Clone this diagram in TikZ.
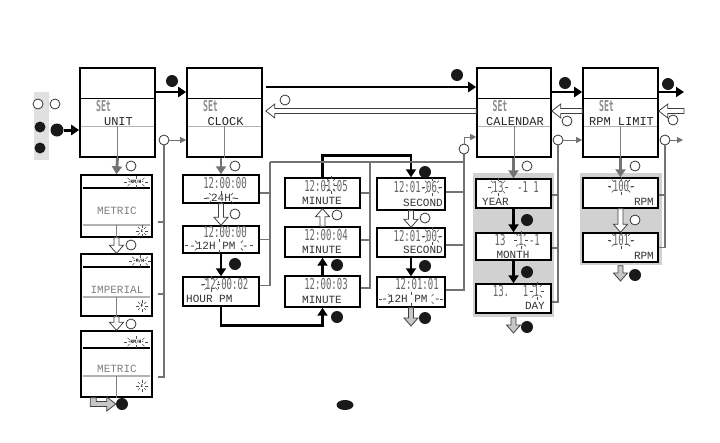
\documentclass[tikz,border=0pt]{standalone}
\usepackage{fontspec}
\usepackage{graphicx}
\setmainfont{Liberation Sans}
\newfontfamily\lcdfont{Liberation Mono}
\newfontfamily\digfont{DejaVu Sans Mono}
\usetikzlibrary{arrows.meta,calc,shapes.geometric}
\newcommand\nrw[1]{\scalebox{0.6}[1]{#1}}
\newcommand\nrs[1]{\scalebox{0.55}[1]{#1}}
\newcommand\spk[4]{\foreach \a in {0,45,90,135,180,225,270,315}{\draw[spkl] ({#1+#3*cos(\a)},{#2+#4*sin(\a)}) -- ({#1+(#3+3)*cos(\a)},{#2+(#4+3)*sin(\a)});}}
% open (outlined) arrows: style, start, end
\newcommand\oaD[3]{\path[#1] let \p1=(#2), \p2=(#3) in (\x1-2.5pt,\y1) -- (\x1-2.5pt,\y2+8pt) -- (\x1-7pt,\y2+8pt) -- (\x1,\y2) -- (\x1+7pt,\y2+8pt) -- (\x1+2.5pt,\y2+8pt) -- (\x1+2.5pt,\y1) -- cycle;}
\newcommand\oaU[3]{\path[#1] let \p1=(#2), \p2=(#3) in (\x1-2.5pt,\y1) -- (\x1-2.5pt,\y2-8pt) -- (\x1-7pt,\y2-8pt) -- (\x1,\y2) -- (\x1+7pt,\y2-8pt) -- (\x1+2.5pt,\y2-8pt) -- (\x1+2.5pt,\y1) -- cycle;}
\newcommand\oaL[3]{\path[#1] let \p1=(#2), \p2=(#3) in (\x1,\y1-2.5pt) -- (\x2+9pt,\y1-2.5pt) -- (\x2+9pt,\y1-7pt) -- (\x2,\y1) -- (\x2+9pt,\y1+7pt) -- (\x2+9pt,\y1+2.5pt) -- (\x1,\y1+2.5pt) -- cycle;}
\newcommand\setinner[2]{%
 \draw[line width=1.2pt] ($(#1.north west)+(2,31)$) -- ($(#1.north east)+(-2,31)$);
 \draw[black!30, line width=1.3pt] ($(#1.north west)+(2,59)$) -- ($(#1.north east)+(-2,59)$);
 \draw[black!50, line width=0.8pt] ($(#1.north)+(0,59)$) -- (#1.south);
 \node[settxt] (#1-set) at ($(#1.north)+(-14,39)$) {\nrs{SEt}};
 \node[setlbl] (#1-lbl) at ($(#1.north)+(1,54)$) {#2};}
\tikzset{
 setbox/.style={draw, line width=1.6pt, minimum width=75pt, minimum height=89pt, inner sep=0pt, fill=white},
 disp/.style={draw, line width=1.4pt, fill=white, inner sep=0pt},
 lcdtxt/.style={font=\lcdfont\fontsize{11}{11}\selectfont, text=black!80, inner sep=0pt},
 setlbl/.style={font=\lcdfont\fontsize{12}{12}\selectfont, text=black!85, inner sep=0pt},
 gtxt/.style={lcdtxt, text=black!50},
 digtxt/.style={font=\digfont\fontsize{15}{15}\selectfont, text=black!60, inner sep=0pt},
 settxt/.style={font=\digfont\bfseries\fontsize{15}{15}\selectfont, text=black!45, inner sep=0pt},
 tinytxt/.style={font=\digfont\bfseries\fontsize{4.5}{4.5}\selectfont, inner sep=0pt},
 oc/.style={circle, draw=black!80, line width=0.8pt, fill=white, minimum size=10pt, inner sep=0pt},
 fc/.style={circle, fill=black!90, minimum size=12pt, inner sep=0pt},
 barrow/.style={draw=black, line width=2.8pt, -{Triangle[width=10pt,length=8pt]}},
 gdown/.style={draw=black!55, line width=2.8pt, -{Triangle[width=10pt,length=8pt]}},
 garrow/.style={draw=black!55, line width=1pt, -{Triangle[width=6pt,length=6pt]}},
 br/.style={draw=black!55, line width=1.1pt},
 oarrow/.style={draw=black!75, line width=0.8pt, fill=white, line join=miter},
 larrow/.style={oarrow, fill=black!22},
 spkl/.style={draw=black!70, line width=0.6pt},
 panel/.style={fill=black!18},
}
\begin{document}
\begin{tikzpicture}[x=1pt,y=-1pt]
\useasboundingbox (0,0) rectangle (720,442);
\fill[white] (0,0) rectangle (720,442);

% ---------- legend ----------
\fill[black!12] (34,92) rectangle (49,160);
\node[oc] (lg1) at (38,104) {};
\node[oc] (lg2) at (55,104) {};
\node[fc, minimum size=11pt] (lg3) at (40,127) {};
\node[fc, minimum size=13pt] (lg4) at (57,130) {};
\node[fc, minimum size=11pt] (lg5) at (40,148) {};

% ---------- set boxes ----------
\node[setbox] (unit) at (117.5,112.5) {};
\node[setbox] (clock) at (224.5,112.5) {};
\node[setbox, minimum width=74pt] (cal) at (514,112.5) {};
\node[setbox] (rpm) at (620.5,112.5) {};
\setinner{unit}{UNIT}
\setinner{clock}{CLOCK}
\setinner{cal}{CALENDAR}
\setinner{rpm}{RPM LIMIT}

\draw[line width=3pt, -{Triangle[width=10pt,length=8pt]}] (lg4.east) -- (lg4.east -| unit.west);

% ---------- top arrows ----------
\node[fc] (fa) at (172,81) {};
\draw[barrow] ([yshift=20.5pt]unit.east) -- ([yshift=20.5pt]clock.west);
\node[fc] (fb) at (457,75) {};
\draw[barrow] ([xshift=3pt,yshift=25.5pt]clock.east) -- ([yshift=25.5pt]cal.west);
\oaL{oarrow}{[yshift=1.5pt]cal.west}{[xshift=3pt,yshift=1.5pt]clock.east}
\node[oc] (ob) at (285,100) {};
\node[fc] (fcc) at (565,83) {};
\draw[barrow] ([yshift=20.5pt]cal.east) -- ([yshift=20.5pt]rpm.west);
\oaL{oarrow}{[yshift=1.5pt]rpm.west}{[yshift=1.5pt]cal.east}
\node[oc] (oc2) at (567,121) {};
\coordinate (outA) at (684,92);
\coordinate (outB) at (684,111);
\node[fc] (fd) at (668,84) {};
\draw[barrow] ([yshift=20.5pt]rpm.east) -- (outA);
\oaL{oarrow}{outB}{[yshift=1.5pt]rpm.east}
\node[oc] (od) at (673,120) {};

% ---------- UNIT column ----------
\node[disp, minimum width=71pt, minimum height=62pt] (m1) at (116.5,206) {};
\draw[line width=1.1pt] (83,188) -- (150,188);
\node[tinytxt] (m1k) at (136,182) {-KM/H-};
\node[gtxt] (m1t) at (117,211) {METRIC};
\draw[black!30, line width=1.2pt] (83,225) -- (150,225);
\draw[black!50, line width=0.8pt] (116.5,225) -- (m1.south);
\node[tinytxt] (m1c) at (142,231) {c};
\spk{136}{182}{9}{3}
\spk{142}{231}{3}{3}

\node[disp, minimum width=71pt, minimum height=62pt] (m2) at (116.5,285) {};
\draw[line width=1.1pt] (83,267) -- (150,267);
\node[tinytxt] (m2k) at (140,261) {-M/H-};
\node[gtxt] (m2t) at (117,290) {IMPERIAL};
\draw[black!30, line width=1.2pt] (83,297) -- (150,297);
\draw[black!50, line width=0.8pt] (116.5,297) -- (m2.south);
\node[tinytxt] (m2f) at (142,306) {F};
\spk{140}{261}{8}{3}
\spk{142}{306}{3}{3}

\node[disp, minimum width=71pt, minimum height=66pt] (m3) at (116.5,364) {};
\draw[line width=1.1pt] (83,348) -- (150,348);
\node[tinytxt] (m3k) at (136,342) {-KM/H-};
\node[gtxt] (m3t) at (117,369) {METRIC};
\draw[black!30, line width=1.2pt] (83,376) -- (150,376);
\draw[black!50, line width=0.8pt] (116.5,376) -- (m3.south);
\node[tinytxt] (m3c) at (142,386) {c};
\spk{136}{342}{9}{3}
\spk{142}{386}{3}{3}

\draw[gdown] (unit.south) -- (m1.north);
\node[oc] (u1) at (131,166) {};
\oaD{oarrow}{m1.south}{m2.north}
\node[oc] (u2) at (131,245) {};
\oaD{oarrow}{m2.south}{m3.north}
\node[oc] (u3) at (131,324) {};
\node[fc] (uz) at (122,404) {};
\path[larrow] let \p1=(m3.south west), \p2=(uz.west) in (\x1+10pt,\y1) -- (\x1+16pt,\y1) -- (\x1+16pt,\y2+2.5pt) -- (\x2-9pt,\y2+2.5pt) -- (\x2-9pt,\y2+7pt) -- (\x2,\y2) -- (\x2-9pt,\y2-7pt) -- (\x2-9pt,\y2-2.5pt) -- (\x1+10pt,\y2-2.5pt) -- cycle;

\node[oc] (cu) at (164,140) {};
\draw[br] ([xshift=5pt,yshift=-16pt]m1.east) -| (cu.south);
\draw[br] ([xshift=5pt,yshift=-9pt]m2.east) -| (cu.south);
\draw[br] ([xshift=5pt,yshift=-13pt]m3.east) -| (cu.south);
\draw[garrow] (cu.east) -- (cu.east -| clock.west);

% ---------- CLOCK column 1 ----------
\node[disp, minimum width=76pt, minimum height=28pt] (d1) at (221,189) {};
\node[digtxt] (d1n) at (225,183.5) {\nrw{12:00:00}};
\node[lcdtxt] (d1l) at (221,198) {-24H-};
\spk{221}{198}{14}{4}
\node[disp, minimum width=76pt, minimum height=27pt] (d2) at (221,239.5) {};
\node[digtxt] (d2n) at (225,232) {\nrw{12:00:00}};
\node[lcdtxt] (d2l) at (219,245.5) {-12H PM -};
\spk{219}{245.5}{31}{4}
\node[disp, minimum width=76pt, minimum height=29pt] (d3) at (221,291.5) {};
\node[digtxt] (d3n) at (224,284) {\nrw{-12:00:02}};
\node[lcdtxt, anchor=west] (d3l) at (186,298.5) {HOUR PM};
\spk{211}{284}{6}{5}

\draw[gdown] (clock.south -| d1.north) -- (d1.north);
\node[oc] (k0) at (235,166) {};
\oaD{oarrow}{d1.south}{d2.north}
\node[oc] (k1c) at (235,214) {};
\draw[barrow] (d2.south) -- (d3.north);
\node[fc] (k2c) at (235,264) {};

% ---------- CLOCK column 2 ----------
\node[disp, minimum width=75pt, minimum height=30pt] (c2a) at (322.5,193) {};
\node[digtxt] (c2an) at (326,186) {\nrw{12:01:05}};
\node[lcdtxt] (c2al) at (322,201) {MINUTE};
\spk{331}{185}{3}{6}
\node[disp, minimum width=75pt, minimum height=30pt] (c2b) at (322.5,242) {};
\node[digtxt] (c2bn) at (326,235) {\nrw{12:00:04}};
\node[lcdtxt] (c2bl) at (322,250) {MINUTE};
\node[disp, minimum width=75pt, minimum height=31pt] (c2c) at (322.5,291.5) {};
\node[digtxt] (c2cn) at (326,284) {\nrw{12:00:03}};
\node[lcdtxt] (c2cl) at (322,300) {MINUTE};

\draw[barrow] (d3.south) -- ++(0,19) -| (c2c.south);
\node[fc] (k3c) at (337,317) {};
\draw[barrow] (c2c.north) -- (c2b.south);
\node[fc] (k4c) at (337,265) {};
\oaU{oarrow}{c2b.north}{c2a.south}
\node[oc] (k5c) at (337,215) {};

% ---------- CLOCK column 3 ----------
\node[disp, minimum width=68pt, minimum height=32pt] (c3a) at (411,194) {};
\node[digtxt] (c3an) at (418,187) {\nrw{12:01-06-}};
\node[lcdtxt, anchor=east] (c3al) at (443,203) {SECOND};
\spk{432}{187}{7}{6}
\node[disp, minimum width=68pt, minimum height=29pt] (c3b) at (411,242.5) {};
\node[digtxt] (c3bn) at (418,236) {\nrw{12:01-00-}};
\node[lcdtxt, anchor=east] (c3bl) at (443,250) {SECOND};
\spk{432}{236}{7}{6}
\node[disp, minimum width=68pt, minimum height=30pt] (c3c) at (411,292) {};
\node[digtxt] (c3cn) at (417,284) {\nrw{12:01:01}};
\node[lcdtxt] (c3cl) at (411,299) {-12H PM -};
\spk{411}{299}{29}{4}

\draw[barrow] (c2a.north) -- ++(0,-22) -| (c3a.north);
\node[fc] (k6c) at (425,172) {};
\oaD{oarrow}{c3a.south}{c3b.north}
\node[oc] (k7c) at (425,218) {};
\draw[barrow] (c3b.south) -- (c3c.north);
\node[fc] (k8c) at (425,266) {};
\coordinate (c3out) at (411,326);
\oaD{larrow}{c3c.south}{c3out}
\node[fc] (k9c) at (425,318) {};

% ---------- CLOCK brackets ----------
\coordinate (kb1) at (270,162);
\coordinate (kb2) at (370,162);
\node[oc] (cc) at (464,149) {};
\draw[br] ([yshift=-4pt]d1.east) -| (kb1);
\draw[br] (d2.east) -| (kb1);
\draw[br] ([yshift=6pt]d3.east) -| (kb1);
\draw[br] (c2a.east) -| (kb2);
\draw[br] ([yshift=2pt]c2b.east) -| (kb2);
\draw[br] ([yshift=3.5pt]c2c.east) -| (kb2);
\draw[br] ([yshift=2pt]c3a.east) -| (cc.south);
\draw[br] ([yshift=-2.5pt]c3b.east) -| (cc.south);
\draw[br] ([yshift=2pt]c3c.east) -| (cc.south);
\draw[br] (kb1) -| (cc.south);
\draw[garrow] (cc.north) |- ([yshift=-24.5pt]cal.west);

% ---------- CALENDAR ----------
\fill[panel] (473,173) rectangle (554,317);
\node[disp, minimum width=75pt, minimum height=29pt] (y1) at (513.5,193.5) {};
\node[digtxt] (y1a) at (498,187) {\nrw{13}};
\node[digtxt] (y1b) at (528,187) {\nrw{-1 1}};
\node[lcdtxt, anchor=west] (y1l) at (482,202) {YEAR};
\spk{498}{187}{7}{6}
\node[disp, minimum width=75pt, minimum height=27pt] (y2) at (513.5,246.5) {};
\node[digtxt] (y2a) at (500,240) {\nrw{13}};
\node[digtxt] (y2b) at (529,240) {\nrw{1 -1}};
\node[lcdtxt] (y2l) at (513,255) {MONTH};
\spk{521}{240}{4}{6}
\node[disp, minimum width=75pt, minimum height=29pt] (y3) at (513.5,298.5) {};
\node[digtxt] (y3a) at (501,291) {\nrw{13.}};
\node[digtxt] (y3b) at (531,291) {\nrw{1 1}};
\node[lcdtxt, anchor=east] (y3l) at (545,306) {DAY};
\spk{537}{291}{4}{6}

\draw[gdown] (cal.south -| y1.north) -- (y1.north);
\node[oc] (q0) at (527,166) {};
\draw[barrow] (y1.south) -- (y2.north);
\node[fc] (q1) at (527,220) {};
\draw[barrow] (y2.south) -- (y3.north);
\node[fc] (q2) at (527,272) {};
\coordinate (calout) at (513.5,333);
\oaD{larrow}{[yshift=-4pt]y3.south}{calout}
\node[fc] (q3) at (527,327) {};

\node[oc] (ccal) at (558,140) {};
\draw[br] ([yshift=-1.5pt]y1.east) -| (ccal.south);
\draw[br] ([yshift=-1.5pt]y2.east) -| (ccal.south);
\draw[br] ([yshift=-3.5pt]y3.east) -| (ccal.south);
\draw[garrow] (ccal.east) -- (ccal.east -| rpm.west);

% ---------- RPM ----------
\fill[panel] (580,173) rectangle (662,265);
\node[disp, minimum width=75pt, minimum height=30pt] (p1) at (620.5,193) {};
\node[digtxt] (p1n) at (621,186) {\nrw{-100-}};
\node[lcdtxt, anchor=east] (p1l) at (654,202) {RPM};
\spk{621}{186}{10}{6}
\node[disp, minimum width=75pt, minimum height=29pt] (p2) at (620.5,247.5) {};
\node[digtxt] (p2n) at (621,240) {\nrw{-101-}};
\node[lcdtxt, anchor=east] (p2l) at (654,256) {RPM};
\spk{621}{240}{10}{6}

\draw[gdown] (rpm.south -| p1.north) -- (p1.north);
\node[oc] (r0) at (635,166) {};
\oaD{oarrow}{p1.south}{p2.north}
\node[oc] (r1) at (635,220) {};
\coordinate (rpmdn) at (620.5,281);
\oaD{larrow}{[yshift=-3pt]p2.south}{rpmdn}
\node[fc] (r2) at (635,275) {};

\node[oc] (crpm) at (665,140) {};
\draw[br] ([yshift=-2pt]p1.east) -| (crpm.south);
\draw[br] (p2.east) -| (crpm.south);
\coordinate (rpmout) at (683,140);
\draw[garrow] (crpm.east) -- (rpmout);

% ---------- bottom dot ----------
\node[ellipse, fill=black!90, minimum width=17pt, minimum height=10pt, inner sep=0pt] (dot) at (345,405) {};
\end{tikzpicture}
\end{document}
